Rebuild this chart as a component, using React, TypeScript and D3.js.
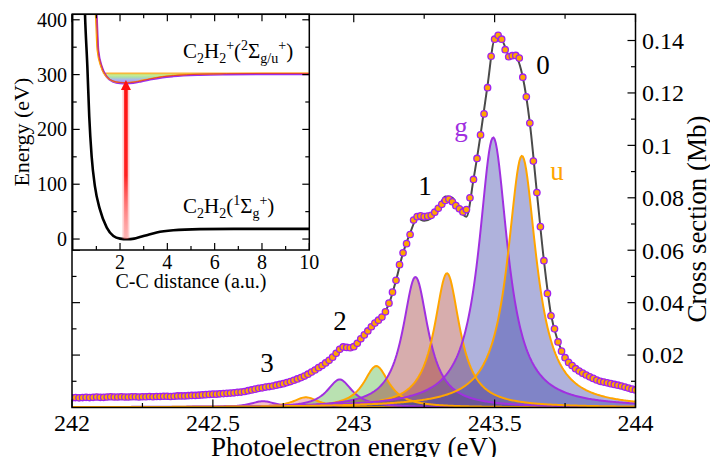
import React from "react";
import * as d3 from "d3";

// ---------- main spectrum data ----------
const energyStart = 242;
const energyStep = 0.0125;
const crossSection = [
  0.0037, 0.0038, 0.0037, 0.0038, 0.0039, 0.0038, 0.0039, 0.0040, 0.0039, 0.0039,
  0.0040, 0.0041, 0.0040, 0.0040, 0.0041, 0.0040, 0.0040, 0.0041, 0.0041, 0.0040,
  0.0041, 0.0041, 0.0042, 0.0041, 0.0042, 0.0042, 0.0043, 0.0043, 0.0042, 0.0043,
  0.0044, 0.0044, 0.0044, 0.0045, 0.0046, 0.0046, 0.0047, 0.0048, 0.0049, 0.0050,
  0.0051, 0.0051, 0.0052, 0.0053, 0.0054, 0.0055, 0.0056, 0.0058, 0.0059, 0.0061,
  0.0064, 0.0067, 0.0070, 0.0073, 0.0075, 0.0078, 0.0080, 0.0082, 0.0085, 0.0088,
  0.0091, 0.0095, 0.0099, 0.0104, 0.0109, 0.0114, 0.0120, 0.0127, 0.0135, 0.0143,
  0.0152, 0.0160, 0.0170, 0.0180, 0.0192, 0.0207, 0.0222, 0.0231, 0.0229, 0.0228,
  0.0232, 0.0245, 0.0262, 0.0277, 0.0292, 0.0308, 0.0322, 0.0333, 0.0345, 0.0365,
  0.0398, 0.0440, 0.0485, 0.0545, 0.0590, 0.0625, 0.0660, 0.0715, 0.0728, 0.0731,
  0.0728, 0.0730, 0.0733, 0.0745, 0.0760, 0.0775, 0.0790, 0.0795, 0.0785, 0.0770,
  0.0758, 0.0746, 0.0755, 0.0800, 0.0870, 0.0950, 0.1040, 0.1120, 0.1220, 0.1340,
  0.1405, 0.1420, 0.1405, 0.1365, 0.1338, 0.1342, 0.1343, 0.1333, 0.1260, 0.1185,
  0.1085, 0.0940, 0.0820, 0.0690, 0.0560, 0.0435, 0.0350, 0.0300, 0.0250, 0.0215,
  0.0190, 0.0172, 0.0160, 0.0148, 0.0139, 0.0131, 0.0124, 0.0117, 0.0111, 0.0105,
  0.0100, 0.0097, 0.0094, 0.0091, 0.0088, 0.0085, 0.0082, 0.0078, 0.0074, 0.0070,
  0.0067,
];

const fitStep = 0.025;
const fitValues = [
  0.0038, 0.0038, 0.0039, 0.0039, 0.0040, 0.0040, 0.0040, 0.0041, 0.0041, 0.0041,
  0.0041, 0.0042, 0.0042, 0.0043, 0.0043, 0.0044, 0.0044, 0.0046, 0.0047, 0.0049,
  0.0051, 0.0052, 0.0054, 0.0056, 0.0059, 0.0064, 0.0070, 0.0075, 0.0080, 0.0085,
  0.0091, 0.0099, 0.0109, 0.0120, 0.0135, 0.0152, 0.0170, 0.0192, 0.0220, 0.0228,
  0.0233, 0.0262, 0.0292, 0.0322, 0.0345, 0.0395, 0.0485, 0.0590, 0.0665, 0.0722,
  0.0712, 0.0722, 0.0760, 0.0805, 0.0800, 0.0752, 0.0728, 0.0870, 0.1040, 0.1230,
  0.1400, 0.1400, 0.1345, 0.1338, 0.1260, 0.1085, 0.0820, 0.0560, 0.0355, 0.0252,
  0.0192, 0.0160, 0.0140, 0.0124, 0.0111, 0.0100, 0.0093, 0.0087, 0.0081, 0.0073,
  0.0067,
];

// fitted components (vibrational levels 0..3, g and u)
const levels = ["0", "1", "2", "3"];
const gCenters = [243.495, 243.219, 242.95, 242.678];
const gHeights = [0.103, 0.0498, 0.0107, 0.0024];
const uCenters = [243.597, 243.331, 243.08, 242.83];
const uHeights = [0.096, 0.0512, 0.0158, 0.0039];
const halfWidths = [0.062, 0.055, 0.055, 0.055];
const levelFills = [
  "rgba(60,67,170,0.41)",
  "rgba(150,40,40,0.38)",
  "rgba(70,175,50,0.38)",
  "rgba(220,60,60,0.30)",
];

const xTicksMajor = [242, 242.5, 243, 243.5, 244];
const xTickLabels = ["242", "242.5", "243", "243.5", "244"];
const xTicksMinor = [242.25, 242.75, 243.25, 243.75];
const yTicksMajor = [0.02, 0.04, 0.06, 0.08, 0.1, 0.12, 0.14];
const yTickLabels = ["0.02", "0.04", "0.06", "0.08", "0.1", "0.12", "0.14"];
const yTicksMinor = [0.01, 0.03, 0.05, 0.07, 0.09, 0.11, 0.13];

// ---------- inset data ----------
const neutralR = [0.45, 0.52, 0.62, 0.7, 0.8, 0.94, 1.15, 1.44, 1.72, 2.0, 2.3, 2.6, 2.84, 3.2, 3.55, 4.25, 5.38, 6.8, 8, 10];
const neutralE = [520, 410, 314, 223, 151, 96, 54, 20.7, 5.4, 0.7, -0.3, 0.8, 3.5, 8, 12, 16, 18, 18.5, 18.6, 18.6];
const ionR = [0.95, 1.01, 1.08, 1.23, 1.44, 1.72, 2.0, 2.3, 2.56, 2.9, 3.27, 3.8, 4.25, 5.38, 6.5, 8, 10];
const ionE = [440, 408, 344, 314, 296, 287, 284.5, 284, 284.8, 287.5, 291, 295, 297, 299.5, 300.5, 301, 301];
const ionLevel = 302.5;
const arrowR = 2.25;
const arrowTop = 290;
const insetYMajor = [0, 100, 200, 300, 400];
const insetYMinor = [50, 150, 250, 350];
const insetXMajor = [2, 4, 6, 8, 10];
const insetXMinor = [1, 3, 5, 7, 9];

const FONT = "Liberation Serif, DejaVu Serif, serif";

export default function App() {
  const xm = d3.scaleLinear().domain([242, 244]).range([72, 635.5]);
  const ym = d3.scaleLinear().domain([0, 0.15]).range([407.5, 14.3]);
  const xi = d3.scaleLinear().domain([0, 10]).range([72.7, 309.3]);
  const yi = d3.scaleLinear().domain([-20, 410]).range([250, 14.3]);

  const pts = crossSection.map((v, i) => [energyStart + i * energyStep, v] as [number, number]);
  const fitPts = fitValues.map((v, i) => [energyStart + i * fitStep, v] as [number, number]);

  const line = d3
    .line<[number, number]>()
    .x((d) => xm(d[0]))
    .y((d) => ym(d[1]))
    .curve(d3.curveMonotoneX);

  const grid = d3.range(242, 244.0001, 0.004);
  const peak = (c: number, h: number, w: number) =>
    grid.map((e) => [e, h / (1 + ((e - c) / w) ** 2)] as [number, number]);
  const area = d3
    .area<[number, number]>()
    .x((d) => xm(d[0]))
    .y0(ym(0))
    .y1((d) => ym(d[1]));
  const pline = d3
    .line<[number, number]>()
    .x((d) => xm(d[0]))
    .y((d) => ym(d[1]));

  const peaks: { pts: [number, number][]; fill: string; stroke: string }[] = [];
  for (let k = levels.length - 1; k >= 0; k--) {
    peaks.push({ pts: peak(gCenters[k], gHeights[k], halfWidths[k]), fill: levelFills[k], stroke: "#a030e0" });
    peaks.push({ pts: peak(uCenters[k], uHeights[k], halfWidths[k]), fill: levelFills[k], stroke: "#ffa500" });
  }

  // inset curves
  const ilNeutral = d3
    .line<number>()
    .x((_, i) => xi(neutralR[i]))
    .y((d) => yi(d))
    .curve(d3.curveMonotoneX);
  const ilIon = d3
    .line<number>()
    .x((_, i) => xi(ionR[i]))
    .y((d) => yi(d))
    .curve(d3.curveMonotoneX);
  const ionArea = d3
    .area<number>()
    .x((_, i) => xi(ionR[i]))
    .y0(yi(ionLevel))
    .y1((d) => yi(Math.min(d, ionLevel)))
    .curve(d3.curveMonotoneX);

  const frameL = 72, frameR = 635.5, frameT = 14.3, frameB = 407.5;
  const iL = 72.7, iR = 309.3, iT = 14.3, iB = 250;
  const ax = xi(arrowR);

  return (
    <svg width={710} height={457} style={{ position: "absolute", left: 0, top: 0, background: "#fff", fontFamily: FONT }}>
      <defs>
        <clipPath id="mainClip">
          <rect x={frameL} y={frameT} width={frameR - frameL} height={frameB - frameT} />
        </clipPath>
        <clipPath id="insetClip">
          <rect x={iL} y={iT} width={iR - iL} height={iB - iT} />
        </clipPath>
        <linearGradient id="wellGrad" x1="0" y1={yi(284)} x2="0" y2={yi(ionLevel)} gradientUnits="userSpaceOnUse">
          <stop offset="0" stopColor="#a77cf5" />
          <stop offset="0.35" stopColor="#a9b4f2" />
          <stop offset="0.65" stopColor="#ade6a2" />
          <stop offset="1" stopColor="#f4ec86" />
        </linearGradient>
        <linearGradient id="arrowGrad" x1="0" y1={yi(arrowTop)} x2="0" y2={yi(0)} gradientUnits="userSpaceOnUse">
          <stop offset="0" stopColor="#ff1010" />
          <stop offset="0.6" stopColor="#ff2020" />
          <stop offset="1" stopColor="#ff8080" stopOpacity="0.3" />
        </linearGradient>
      </defs>

      {/* main plot */}
      <g clipPath="url(#mainClip)">
        {peaks.map((p, i) => (
          <path key={"f" + i} d={area(p.pts) || ""} fill={p.fill} stroke="none" />
        ))}
        {peaks.map((p, i) => (
          <path key={"s" + i} d={pline(p.pts) || ""} fill="none" stroke={p.stroke} strokeWidth={2} />
        ))}
        <path d={line(fitPts) || ""} fill="none" stroke="#4a4a4a" strokeWidth={2} />
        {pts.map((d, i) => (
          <circle key={i} cx={xm(d[0])} cy={ym(d[1])} r={3.2} fill="#ffa500" stroke="#a020f0" strokeWidth={1.3} />
        ))}
      </g>

      {/* main ticks */}
      {xTicksMajor.map((t) => (
        <g key={"xt" + t}>
          <line x1={xm(t)} x2={xm(t)} y1={frameB} y2={frameB - 8} stroke="#000" strokeWidth={1.2} />
          <line x1={xm(t)} x2={xm(t)} y1={frameT} y2={frameT + 8} stroke="#000" strokeWidth={1.2} />
        </g>
      ))}
      {xTicksMinor.map((t) => (
        <g key={"xm" + t}>
          <line x1={xm(t)} x2={xm(t)} y1={frameB} y2={frameB - 4.5} stroke="#000" strokeWidth={1.2} />
          <line x1={xm(t)} x2={xm(t)} y1={frameT} y2={frameT + 4.5} stroke="#000" strokeWidth={1.2} />
        </g>
      ))}
      {yTicksMajor.map((t) => (
        <g key={"yt" + t}>
          <line x1={frameR} x2={frameR - 8} y1={ym(t)} y2={ym(t)} stroke="#000" strokeWidth={1.2} />
          <line x1={frameL} x2={frameL + 8} y1={ym(t)} y2={ym(t)} stroke="#000" strokeWidth={1.2} />
        </g>
      ))}
      {yTicksMinor.map((t) => (
        <g key={"ym" + t}>
          <line x1={frameR} x2={frameR - 4.5} y1={ym(t)} y2={ym(t)} stroke="#000" strokeWidth={1.2} />
          <line x1={frameL} x2={frameL + 4.5} y1={ym(t)} y2={ym(t)} stroke="#000" strokeWidth={1.2} />
        </g>
      ))}
      <rect x={frameL} y={frameT} width={frameR - frameL} height={frameB - frameT} fill="none" stroke="#000" strokeWidth={1.5} />

      {xTicksMajor.map((t, i) => (
        <text key={"xl" + t} x={xm(t)} y={431} fontSize={24} textAnchor="middle" fill="#000">
          {xTickLabels[i]}
        </text>
      ))}
      {yTicksMajor.map((t, i) => (
        <text key={"yl" + t} x={642} y={ym(t)} dy="0.35em" fontSize={24} textAnchor="start" fill="#000">
          {yTickLabels[i]}
        </text>
      ))}
      <text x={354} y={456} fontSize={27} textAnchor="middle" fill="#000">
        Photoelectron energy (eV)
      </text>
      <text transform={`translate(706,${(frameT + frameB) / 2 + 8}) rotate(-90)`} fontSize={27} textAnchor="middle" fill="#000">
        Cross section (Mb)
      </text>

      {/* peak labels */}
      <text x={543} y={74} fontSize={27} textAnchor="middle" fill="#000">0</text>
      <text x={425} y={195} fontSize={27} textAnchor="middle" fill="#000">1</text>
      <text x={340} y={330} fontSize={27} textAnchor="middle" fill="#000">2</text>
      <text x={267} y={372} fontSize={27} textAnchor="middle" fill="#000">3</text>
      <text x={461} y={136} fontSize={27} textAnchor="middle" fill="#a030e0">g</text>
      <text x={557} y={180} fontSize={27} textAnchor="middle" fill="#ffa500">u</text>

      {/* inset */}
      <rect x={iL} y={iT} width={iR - iL} height={iB - iT} fill="#fff" />
      <g clipPath="url(#insetClip)">
        <path d={ionArea(ionE) || ""} fill="url(#wellGrad)" stroke="none" />
        <line x1={xi(1.38)} x2={xi(10)} y1={yi(ionLevel)} y2={yi(ionLevel)} stroke="#ffb030" strokeWidth={1.6} />
        <line x1={xi(1.5)} x2={xi(10)} y1={yi(ionLevel - 2)} y2={yi(ionLevel - 2)} stroke="#c8e070" strokeWidth={1} />
        <path d={ilIon(ionE) || ""} fill="none" stroke="#9a30f0" strokeWidth={2.2} />
        <path d={ilIon(ionE) || ""} fill="none" stroke="#ffa500" strokeWidth={1.2} transform="translate(-1.2,-0.8)" />
        <path d={ilIon(ionE) || ""} fill="none" stroke="#e03c3c" strokeWidth={1} transform="translate(0,-0.6)" />
        <path d={ilNeutral(neutralE) || ""} fill="none" stroke="#000" strokeWidth={2.6} />
        {/* excitation arrow */}
        <rect x={ax - 3.5} y={yi(arrowTop - 15)} width={7} height={yi(0) - yi(arrowTop - 15)} fill="rgba(255,110,110,0.35)" />
        <rect x={ax - 1.8} y={yi(arrowTop - 15)} width={3.6} height={yi(0) - yi(arrowTop - 15)} fill="url(#arrowGrad)" />
        <polygon
          points={`${ax - 5},${yi(arrowTop - 18)} ${ax + 5},${yi(arrowTop - 18)} ${ax},${yi(arrowTop)}`}
          fill="#ff1010"
        />
      </g>
      {insetYMajor.map((t) => (
        <g key={"iy" + t}>
          <line x1={iL} x2={iL + 7} y1={yi(t)} y2={yi(t)} stroke="#000" strokeWidth={1.2} />
          <line x1={iR} x2={iR - 7} y1={yi(t)} y2={yi(t)} stroke="#000" strokeWidth={1.2} />
          <text x={67} y={yi(t)} dy="0.35em" fontSize={20} textAnchor="end" fill="#000">{t}</text>
        </g>
      ))}
      {insetYMinor.map((t) => (
        <g key={"iym" + t}>
          <line x1={iL} x2={iL + 4} y1={yi(t)} y2={yi(t)} stroke="#000" strokeWidth={1.2} />
          <line x1={iR} x2={iR - 4} y1={yi(t)} y2={yi(t)} stroke="#000" strokeWidth={1.2} />
        </g>
      ))}
      {insetXMajor.map((t) => (
        <g key={"ix" + t}>
          <line x1={xi(t)} x2={xi(t)} y1={iB} y2={iB - 7} stroke="#000" strokeWidth={1.2} />
          <line x1={xi(t)} x2={xi(t)} y1={iT} y2={iT + 7} stroke="#000" strokeWidth={1.2} />
          <text x={xi(t)} y={269} fontSize={20} textAnchor="middle" fill="#000">{t}</text>
        </g>
      ))}
      {insetXMinor.map((t) => (
        <g key={"ixm" + t}>
          <line x1={xi(t)} x2={xi(t)} y1={iB} y2={iB - 4} stroke="#000" strokeWidth={1.2} />
          <line x1={xi(t)} x2={xi(t)} y1={iT} y2={iT + 4} stroke="#000" strokeWidth={1.2} />
        </g>
      ))}
      <rect x={iL} y={iT} width={iR - iL} height={iB - iT} fill="none" stroke="#000" strokeWidth={1.5} />
      <text x={(iL + iR) / 2} y={288} fontSize={20} textAnchor="middle" fill="#000">C-C distance (a.u.)</text>
      <text transform={`translate(29,${(iT + iB) / 2}) rotate(-90)`} fontSize={22} textAnchor="middle" fill="#000">
        Energy (eV)
      </text>

      <text x={183} y={58} fontSize={21} fill="#000">
        C<tspan fontSize={14} dy={5}>2</tspan>
        <tspan dy={-5}>H</tspan>
        <tspan fontSize={14} dy={5}>2</tspan>
        <tspan fontSize={14} dy={-13}>+</tspan>
        <tspan dy={8}>(</tspan>
        <tspan fontSize={14} dy={-8}>2</tspan>
        <tspan dy={8}>Σ</tspan>
        <tspan fontSize={14} dy={5}>g/u</tspan>
        <tspan fontSize={14} dy={-13}>+</tspan>
        <tspan dy={8}>)</tspan>
      </text>
      <text x={183} y={213} fontSize={21} fill="#000">
        C<tspan fontSize={14} dy={5}>2</tspan>
        <tspan dy={-5}>H</tspan>
        <tspan fontSize={14} dy={5}>2</tspan>
        <tspan dy={-5}>(</tspan>
        <tspan fontSize={14} dy={-8}>1</tspan>
        <tspan dy={8}>Σ</tspan>
        <tspan fontSize={14} dy={5}>g</tspan>
        <tspan fontSize={14} dy={-13}>+</tspan>
        <tspan dy={8}>)</tspan>
      </text>
    </svg>
  );
}
